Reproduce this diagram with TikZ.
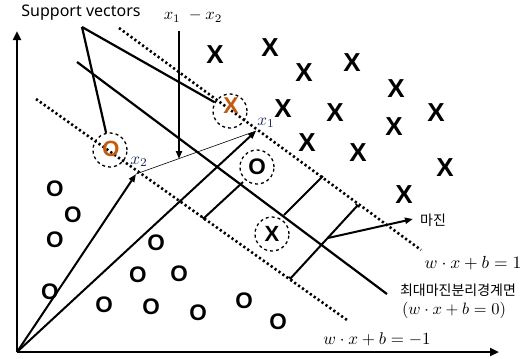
\documentclass[tikz,border=0pt]{standalone}
\usepackage{fontspec}
\newfontfamily\sansf{Noto Sans}
\newfontfamily\kor{Noto Sans CJK KR}
\newfontfamily\markf{Liberation Sans}
\usetikzlibrary{arrows.meta}
\definecolor{svorange}{RGB}{197,90,17}
\definecolor{lblue}{RGB}{25,40,90}
\newcommand\mathsc[2]{\scalebox{#1}{$#2$}}
\begin{document}
\begin{tikzpicture}[x=1pt,y=-1pt,
  axisln/.style={line width=2.6pt,-{Triangle[length=9pt,width=8pt]}},
  solidln/.style={line width=2.2pt},
  dotln/.style={line width=2.6pt,dash pattern=on 2.2pt off 2.6pt},
  vecln/.style={line width=2pt,-{Triangle[length=8pt,width=6pt]}},
  thinln/.style={line width=0.6pt},
  margln/.style={line width=2pt},
  tickln/.style={line width=2pt,{Bar[width=5pt,line width=1.5pt]}-{Bar[width=5pt,line width=1.5pt]}},
  xm/.style={inner sep=0pt,font=\markf\bfseries\fontsize{26}{26}\selectfont},
  om/.style={inner sep=0pt,font=\markf\bfseries\fontsize{22.5}{22.5}\selectfont},
  dcirc/.style={circle,draw,dashed,line width=1.3pt,minimum size=34pt,inner sep=0pt},
  mathlbl/.style={inner sep=0pt},
  smalllbl/.style={inner sep=0pt,text=lblue},
  korlbl/.style={inner sep=0pt,font=\kor\fontsize{14}{16}\selectfont},
]
\useasboundingbox (0,0) rectangle (531,359);
\fill[white] (0,0) rectangle (531,359);

% axes
\coordinate (org) at (17,352);
\coordinate (ytip) at (17,31);
\coordinate (xtip) at (499,352);
\draw[axisln] (org) -- (ytip);
\draw[axisln] (org) -- (xtip);

% hyperplanes
\coordinate (t1) at (119,28);  \coordinate (t2) at (421,250);
\coordinate (m1) at (77,62);   \coordinate (m2) at (387,294);
\coordinate (b1) at (36,99);   \coordinate (b2) at (347,320);
\draw[dotln] (t1) -- (t2);
\draw[solidln] (m1) -- (m2);
\draw[dotln] (b1) -- (b2);

% X marks
\foreach \i/\p in {1/{(215,55)},2/{(270,48)},3/{(304,73)},4/{(352,63)},5/{(396,89)},
  6/{(283,109)},7/{(335,113)},8/{(394,127)},9/{(436,113)},10/{(307,143)},
  11/{(358,153)},12/{(445,168)},13/{(404,195)}}
  \node[xm] (xm\i) at \p {X};

% O marks
\foreach \i/\p in {1/{(55,189)},2/{(73,215)},3/{(55,240)},4/{(50,292)},5/{(156,243)},
  6/{(138,275)},7/{(179,274)},8/{(104,305)},9/{(151,307)},10/{(198,313)},
  11/{(244,301)},12/{(278,322)}}
  \node[om] (om\i) at \p {O};

% support vectors and circled points
\node[xm,text=svorange,font=\markf\bfseries\fontsize{23}{23}\selectfont] (xsv) at (231,106) {X};
\node[om,text=svorange,font=\markf\bfseries\fontsize{22}{22}\selectfont] (osv) at (111,149) {O};
\node[om] (oin) at (257,167) {O};
\node[xm,font=\markf\bfseries\fontsize{22}{22}\selectfont] (xin) at (272,234) {X};
\node[dcirc] (xsvc) at (230,111) {};
\node[dcirc] (osvc) at (110,150) {};
\node[dcirc] (oinc) at (257,167) {};
\node[dcirc] (xinc) at (272,234) {};

% margin segments
\coordinate (s1a) at (323,176); \coordinate (s1b) at (284,215);
\coordinate (s2a) at (358,205); \coordinate (s2b) at (290,279);
\coordinate (s3a) at (243,182); \coordinate (s3b) at (203,219);
\coordinate (marg) at (328,238); \coordinate (margtip) at (413,219);
\draw[margln] (s1a) -- (s1b);
\draw[tickln] (s2a) -- (s2b);
\draw[margln,-{Bar[width=5pt,line width=1.5pt]}] (s3a) -- (s3b);
\draw[margln,-{Triangle[length=8pt,width=6pt]}] (marg) -- (margtip);

% vectors
\coordinate (x2tip) at (136,174);
\coordinate (x1tip) at (256,131);
\draw[vecln] (org) -- (x2tip);
\draw[vecln] (org) -- (x1tip);
\draw[thinln] (x2tip) -- (x1tip);
\coordinate (dtop) at (179,31); \coordinate (dbot) at (179,159);
\draw[vecln] (dtop) -- (dbot);

% support vectors label
\node[inner sep=0pt,font=\sansf\fontsize{16}{17}\selectfont] (svlab) at (81,13) {Support vectors};
\coordinate (svfoot) at (82,27);
\draw[solidln] (svfoot) -- (osvc);
\draw[solidln] (svfoot) -- (xsvc);

% labels
\node[mathlbl] (ldiff) at (193,16) {\mathsc{1.65}{x_1\;-x_2}};
\node[smalllbl] (lx1) at (266,123) {\mathsc{1.7}{x_1}};
\node[smalllbl] (lx2) at (139,162) {\mathsc{1.7}{x_2}};
\node[korlbl,anchor=west] (lmargin) at (420,220) {마진};
\node[mathlbl] (lplus) at (473,263) {\mathsc{1.75}{w\cdot x+b=1}};
\node[korlbl] (lhyp) at (458,290) {최대마진분리경계면};
\node[mathlbl] (lzero) at (454,310) {\mathsc{1.65}{(w\cdot x+b=0)}};
\node[mathlbl] (lminus) at (377,339) {\mathsc{1.7}{w\cdot x+b=-1}};
\end{tikzpicture}
\end{document}
